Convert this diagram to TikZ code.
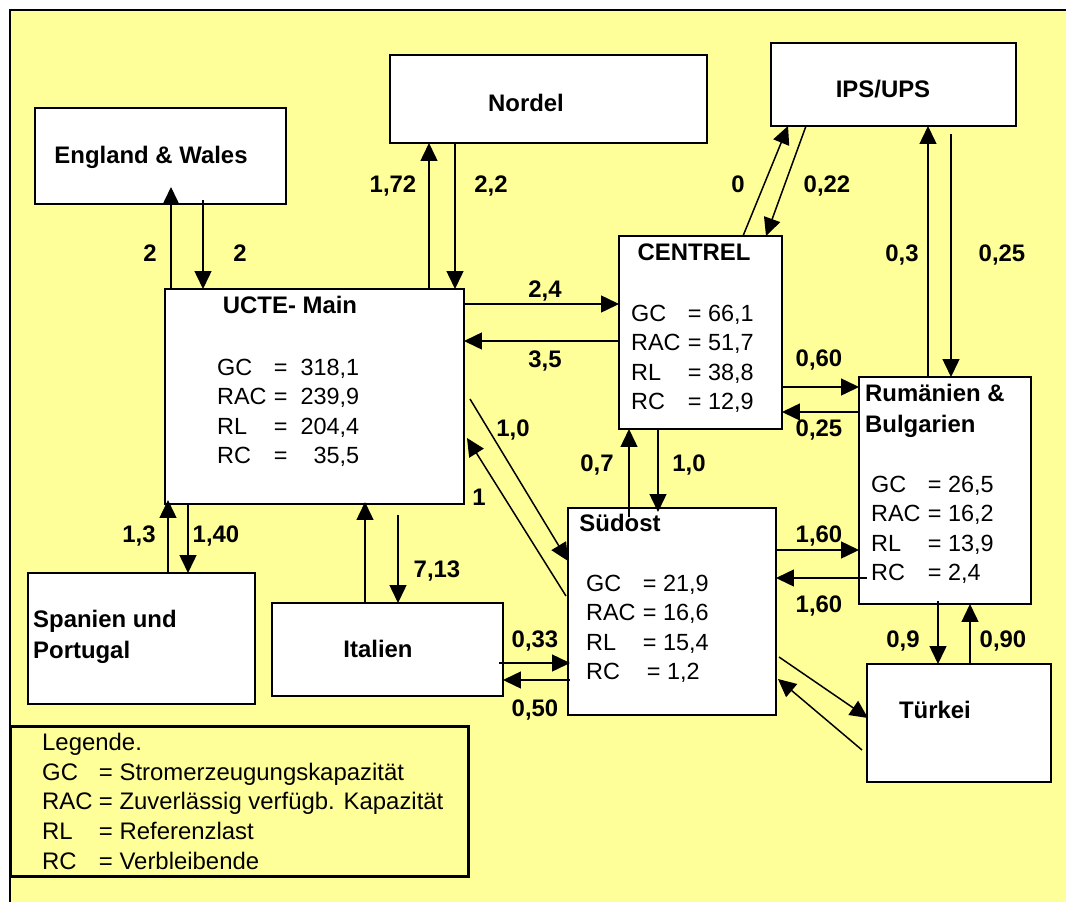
\documentclass[tikz,border=0pt]{standalone}
\usepackage{fontspec}
\setmainfont{Liberation Sans}
\usetikzlibrary{arrows.meta}
\definecolor{bgyellow}{RGB}{255,255,153}

\begin{document}
\begin{tikzpicture}[x=1bp, y=-1bp,
  netbox/.style={draw=black, line width=1.8pt, fill=white, anchor=north west, outer sep=0pt, inner sep=0pt},
  flow/.style={line width=1.5pt, -{Triangle[length=18pt,width=17pt]}},
  flowlbl/.style={font=\bfseries\fontsize{24}{28}\selectfont, inner sep=0pt, text height=17pt, text depth=0pt},
  boxtitle/.style={font=\bfseries\fontsize{24}{31}\selectfont, inner sep=0pt},
  datatab/.style={font=\fontsize{23.5}{29.5}\selectfont, inner sep=0pt, anchor=base west}]
  \useasboundingbox (0,0) rectangle (1066,902);

  % background and frame
  \fill[white] (-10,-10) rectangle (1080,920);
  \fill[bgyellow] (10,10) rectangle (1080,920);
  \draw[line width=3pt] (10,920) -- (10,10) -- (1080,10);

  % boxes
  \node[netbox, minimum width=251bp, minimum height=96bp] (ew) at (35,108) {};
  \node[netbox, minimum width=317bp, minimum height=88bp] (nordel) at (390,55) {};
  \node[netbox, minimum width=245bp, minimum height=83bp] (ips) at (771,43) {};
  \node[netbox, minimum width=299bp, minimum height=215bp] (ucte) at (165,289) {};
  \node[netbox, minimum width=163bp, minimum height=193bp] (centrel) at (619,236) {};
  \node[netbox, minimum width=172bp, minimum height=227bp] (rum) at (859,377) {};
  \node[netbox, minimum width=208bp, minimum height=207bp] (sued) at (568,508) {};
  \node[netbox, minimum width=227bp, minimum height=131bp] (spanien) at (28,573) {};
  \node[netbox, minimum width=231bp, minimum height=93bp] (italien) at (272,603) {};
  \node[netbox, minimum width=184bp, minimum height=118bp] (tuerkei) at (867,664) {};
  \node[netbox, fill=bgyellow, line width=3pt, minimum width=457bp, minimum height=150bp] (legende) at (11,726) {};

  % England & Wales, Nordel
  \draw[flow] ([xshift=6bp]ucte.north west) -- ([xshift=6bp,yshift=17bp]ucte.north west |- ew.south);
  \draw[flow] ([xshift=38bp,yshift=4bp]ucte.north west |- ew.south) -- ([xshift=38bp]ucte.north west);
  \draw[flow] ([xshift=-35bp]ucte.north east) -- ([xshift=-35bp]ucte.north east |- nordel.south);
  \draw[flow] ([xshift=-9bp]ucte.north east |- nordel.south) -- ([xshift=-9bp]ucte.north east);

  % UCTE - CENTREL
  \draw[flow] ([yshift=-68bp]centrel.north west -| ucte.east) -- ([yshift=-68bp]centrel.north west);
  \draw[flow] ([yshift=-105bp]centrel.north west) -- ([yshift=-105bp]centrel.north west -| ucte.east);

  % IPS/UPS
  \draw[flow] ([xshift=124bp]centrel.north west) -- ([xshift=17bp]ips.south west);
  \draw[flow] ([xshift=35bp]ips.south west) -- ([xshift=147bp]centrel.north west);
  \draw[flow] ([xshift=69bp]rum.north west) -- ([xshift=69bp]rum.north west |- ips.south);
  \draw[flow] ([xshift=92bp,yshift=-8bp]rum.north west |- ips.south) -- ([xshift=92bp]rum.north west);

  % CENTREL - Rumaenien, Suedost
  \draw[flow] ([yshift=-10bp]rum.north west -| centrel.east) -- ([yshift=-10bp]rum.north west);
  \draw[flow] ([yshift=-35bp]rum.north west) -- ([yshift=-35bp]rum.north west -| centrel.east);
  \draw[flow] ([xshift=61bp,yshift=-9bp]sued.north west) -- ([xshift=61bp]sued.north west |- centrel.south);
  \draw[flow] ([xshift=90bp]sued.north west |- centrel.south) -- ([xshift=90bp,yshift=-4bp]sued.north west);

  % UCTE - Suedost
  \draw[flow] ([xshift=6bp,yshift=-110bp]ucte.north east) -- ([yshift=-53bp]sued.north west);
  \draw[flow] ([xshift=-2bp,yshift=-88bp]sued.north west) -- ([xshift=3bp,yshift=-149bp]ucte.north east);

  % Suedost - Rumaenien, Tuerkei
  \draw[flow] ([yshift=-42bp]sued.north east) -- ([yshift=-42bp]sued.north east -| rum.west);
  \draw[flow] ([xshift=8bp,yshift=-70bp]sued.north east -| rum.west) -- ([yshift=-70bp]sued.north east);
  \draw[flow] ([xshift=79bp,yshift=3bp]rum.south west) -- ([xshift=79bp]rum.south west |- tuerkei.north);
  \draw[flow] ([xshift=111bp]rum.south west |- tuerkei.north) -- ([xshift=111bp]rum.south west);
  \draw[flow] ([xshift=3bp,yshift=-149bp]sued.north east) -- ([xshift=1bp,yshift=-54bp]tuerkei.north west);
  \draw[flow] ([xshift=-5bp,yshift=-86bp]tuerkei.north west) -- ([xshift=2bp,yshift=-171bp]sued.north east);

  % Italien, Spanien
  \draw[flow] ([xshift=-4bp,yshift=-60bp]italien.north east) -- ([xshift=2bp,yshift=-60bp]italien.north east -| sued.west);
  \draw[flow] ([xshift=2bp,yshift=-77bp]italien.north east -| sued.west) -- ([yshift=-77bp]italien.north east);
  \draw[flow] ([xshift=93bp]italien.north west) -- ([xshift=93bp,yshift=2bp]italien.north west |- ucte.south);
  \draw[flow] ([xshift=126bp,yshift=-11bp]italien.north west |- ucte.south) -- ([xshift=126bp]italien.north west);
  \draw[flow] ([xshift=140bp]spanien.north west) -- ([xshift=140bp,yshift=4bp]spanien.north west |- ucte.south);
  \draw[flow] ([xshift=160bp,yshift=1bp]spanien.north west |- ucte.south) -- ([xshift=160bp]spanien.north west);

  % flow values
  \node[flowlbl] (l1) at (150,253) {2};
  \node[flowlbl] (l2) at (240,253) {2};
  \node[flowlbl] (l3) at (393,184) {1,72};
  \node[flowlbl] (l4) at (491,184) {2,2};
  \node[flowlbl] (l5) at (545,289) {2,4};
  \node[flowlbl] (l6) at (545,359) {3,5};
  \node[flowlbl] (l7) at (738,184) {0};
  \node[flowlbl] (l8) at (827,184) {0,22};
  \node[flowlbl] (l9) at (902,253) {0,3};
  \node[flowlbl] (l10) at (1002,253) {0,25};
  \node[flowlbl] (l11) at (819,358) {0,60};
  \node[flowlbl] (l12) at (819,428) {0,25};
  \node[flowlbl] (l13) at (597,463) {0,7};
  \node[flowlbl] (l14) at (689,463) {1,0};
  \node[flowlbl] (l15) at (513,428) {1,0};
  \node[flowlbl] (l16) at (479,497) {1};
  \node[flowlbl] (l17) at (819,534) {1,60};
  \node[flowlbl] (l18) at (819,604) {1,60};
  \node[flowlbl] (l19) at (903,639) {0,9};
  \node[flowlbl] (l20) at (1003,639) {0,90};
  \node[flowlbl] (l21) at (437,569) {7,13};
  \node[flowlbl] (l22) at (139,534) {1,3};
  \node[flowlbl] (l23) at (216,534) {1,40};
  \node[flowlbl] (l24) at (535,639) {0,33};
  \node[flowlbl] (l25) at (535,708) {0,50};

  % box titles
  \node[flowlbl] (ewtxt) at (151,155) {England \& Wales};
  \node[flowlbl] (nordeltxt) at (526,103) {Nordel};
  \node[flowlbl] (ipstxt) at (883,89) {IPS/UPS};
  \node[flowlbl] (uctetxt) at (290,305) {UCTE- Main};
  \node[flowlbl] (centreltxt) at (694,252) {CENTREL};
  \node[flowlbl] (suedtxt) at (620,523) {Südost};
  \node[flowlbl] (italientxt) at (378,649) {Italien};
  \node[flowlbl] (tuerkeitxt) at (935,710) {Türkei};
  \node[boxtitle, anchor=base west] (rumtxt) at (865,401.6)
    {\begin{tabular}[t]{@{}l@{}}Rumänien \&\\Bulgarien\end{tabular}};
  \node[boxtitle, anchor=base west] (spanientxt) at (33,627.6)
    {\begin{tabular}[t]{@{}l@{}}Spanien und\\Portugal\end{tabular}};

  % capacities
  \node[datatab] (uctedata) at (217,375.4)
    {\begin{tabular}[t]{@{}p{57pt}@{}l@{}}GC & =\ \ 318,1\\RAC & =\ \ 239,9\\RL & =\ \ 204,4\\RC & =\ \ \ \ 35,5\end{tabular}};
  \node[datatab] (centreldata) at (631,321.4)
    {\begin{tabular}[t]{@{}p{57pt}@{}l@{}}GC & = 66,1\\RAC & = 51,7\\RL & = 38,8\\RC & = 12,9\end{tabular}};
  \node[datatab] (rumdata) at (871,492.4)
    {\begin{tabular}[t]{@{}p{57pt}@{}l@{}}GC & = 26,5\\RAC & = 16,2\\RL & = 13,9\\RC & = 2,4\end{tabular}};
  \node[datatab] (sueddata) at (586,591.4)
    {\begin{tabular}[t]{@{}p{57pt}@{}l@{}}GC & = 21,9\\RAC & = 16,6\\RL & = 15,4\\RC & \,= 1,2\end{tabular}};

  % legend
  \node[datatab, font=\fontsize{24}{29.8}\selectfont] (legtxt) at (42,750.6)
    {\begin{tabular}[t]{@{}p{57pt}@{}l@{}}\multicolumn{2}{@{}l@{}}{Legende.}\\GC & = Stromerzeugungskapazität\\RAC & = Zuverlässig verfügb. Kapazität\\RL & = Referenzlast\\RC & = Verbleibende\end{tabular}};
\end{tikzpicture}
\end{document}
